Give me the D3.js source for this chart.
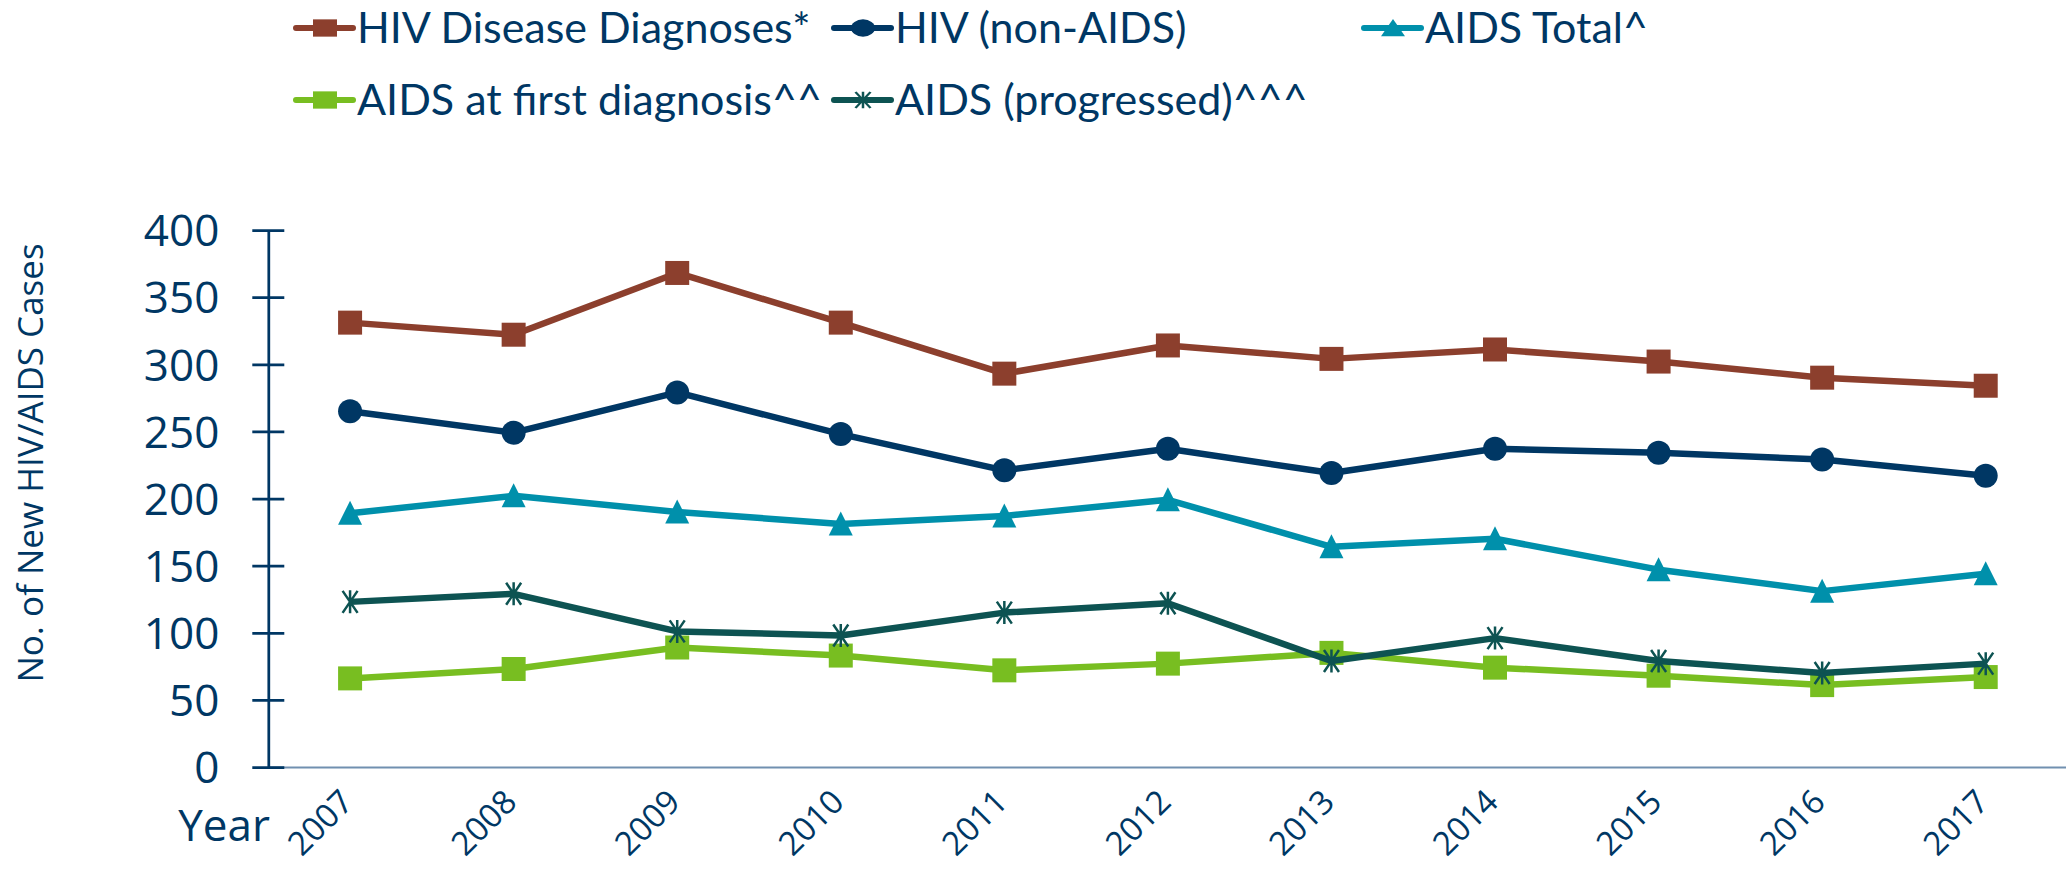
<!DOCTYPE html>
<html>
<head>
<meta charset="utf-8">
<script src="https://cdn.jsdelivr.net/npm/d3@7"></script>
<style>
  body { margin: 0; background: #fff; }
  text { font-family: "Open Sans", sans-serif; fill: #003764; }
</style>
</head>
<body>
<div id="chart"></div>
<script>
// data
const years = ["2007", "2008", "2009", "2010", "2011", "2012", "2013", "2014", "2015", "2016", "2017"];
const hivDisease = [331, 322, 368, 331, 293, 314, 304, 311, 302, 290, 284];
const hivNonAids = [265, 249, 279, 248, 221, 237, 219, 237, 234, 229, 217];
const aidsTotal = [189, 202, 190, 181, 187, 199, 164, 170, 147, 131, 144];
const aidsFirst = [66, 73, 89, 83, 72, 77, 85, 74, 68, 61, 67];
const aidsProgressed = [123, 129, 101, 98, 115, 122, 79, 96, 79, 70, 77];
const yTicks = [0, 50, 100, 150, 200, 250, 300, 350, 400];

const seriesNames = ["HIV Disease Diagnoses*", "HIV (non-AIDS)", "AIDS Total^", "AIDS at first diagnosis^^", "AIDS (progressed)^^^"];

const width = 2066, height = 872;
const navy = "#003764";

const series = [
  {name: seriesNames[0], values: hivDisease, color: "#8c3f2d", shape: "square"},
  {name: seriesNames[1], values: hivNonAids, color: "#003764", shape: "circle"},
  {name: seriesNames[2], values: aidsTotal, color: "#0090ab", shape: "triangle"},
  {name: seriesNames[3], values: aidsFirst, color: "#78be21", shape: "square"},
  {name: seriesNames[4], values: aidsProgressed, color: "#0d5352", shape: "star"}
];

const svg = d3.select("#chart").append("svg")
  .attr("width", width)
  .attr("height", height)
  .style("background", "#fff");

const x = d3.scaleBand().domain(years).range([268.3, 2067.5]).padding(0);
const cx = d => x(d) + x.bandwidth() / 2;
const y = d3.scaleLinear().domain([0, 400]).range([767, 230]);

// marker shapes
function markerPath(shape) {
  if (shape === "square") return "M-12,-12H12V12H-12Z";
  if (shape === "circle") return d3.symbol(d3.symbolCircle, Math.PI * 12 * 12)();
  if (shape === "triangle") return "M0,-12.5L12,11.5L-12,11.5Z";
  return "M0,-11.5V11.5M-7.5,-11L7.5,11M7.5,-11L-7.5,11";
}
function drawMarker(g, s) {
  const p = g.append("path").attr("d", markerPath(s.shape));
  if (s.shape === "star") {
    p.attr("fill", "none").attr("stroke", s.color).attr("stroke-width", 2.5);
  } else {
    p.attr("fill", s.color);
  }
  return p;
}

// x axis
const xAxis = svg.append("g")
  .attr("transform", `translate(0,${y(0)})`)
  .call(d3.axisBottom(x).tickSize(0).tickSizeOuter(0));
xAxis.select(".domain").attr("stroke", "#7190b0").attr("stroke-width", 2);
xAxis.selectAll("text")
  .attr("x", 0).attr("y", 0).attr("dy", 0)
  .attr("text-anchor", "end")
  .attr("transform", "translate(5,37) rotate(-45)")
  .style("font-size", "33px")
  .style("font-family", "'Open Sans', sans-serif")
  .attr("fill", navy);

// y axis
const yAxis = svg.append("g")
  .attr("transform", `translate(268.3,0)`)
  .call(d3.axisLeft(y).tickValues(yTicks).tickSizeOuter(0));
yAxis.select(".domain").attr("stroke", navy).attr("stroke-width", 2.75);
yAxis.selectAll(".tick line")
  .attr("x1", -16).attr("x2", 16)
  .attr("stroke", navy).attr("stroke-width", 2.75);
yAxis.selectAll(".tick text")
  .attr("x", -49).attr("dy", "0.36em")
  .style("font-size", "44px")
  .style("font-family", "'Open Sans', sans-serif")
  .attr("fill", navy);

svg.append("text")
  .attr("x", 270).attr("y", 841)
  .attr("text-anchor", "end")
  .style("font-size", "44px")
  .text("Year");

svg.append("text")
  .attr("transform", "translate(43,463) rotate(-90)")
  .attr("text-anchor", "middle")
  .style("font-size", "35px")
  .text("No. of New HIV/AIDS Cases");

// lines and markers
const line = d3.line().x((d, i) => cx(years[i])).y(d => y(d));
series.forEach(s => {
  const g = svg.append("g");
  g.append("path")
    .attr("d", line(s.values))
    .attr("fill", "none")
    .attr("stroke", s.color)
    .attr("stroke-width", 6.5)
    .attr("stroke-linejoin", "round");
  s.values.forEach((v, i) => {
    const m = g.append("g").attr("transform", `translate(${cx(years[i])},${y(v)})`);
    drawMarker(m, s);
  });
});

// legend
const legendPos = [
  {x: 296, y: 28}, {x: 834, y: 28}, {x: 1364, y: 28},
  {x: 296, y: 100}, {x: 834, y: 100}
];
series.forEach((s, i) => {
  const lg = svg.append("g").attr("transform", `translate(${legendPos[i].x},${legendPos[i].y})`);
  lg.append("line").attr("x1", 0).attr("x2", 57).attr("y1", 0).attr("y2", 0)
    .attr("stroke", s.color).attr("stroke-width", 6).attr("stroke-linecap", "round");
  const m = lg.append("g").attr("transform", "translate(29,0) scale(1,0.72)");
  drawMarker(m, s);
  lg.append("text")
    .attr("x", 61).attr("y", 15)
    .style("font-family", "Lato, sans-serif")
    .style("font-size", "43px")
    .text(s.name);
});
</script>
</body>
</html>
